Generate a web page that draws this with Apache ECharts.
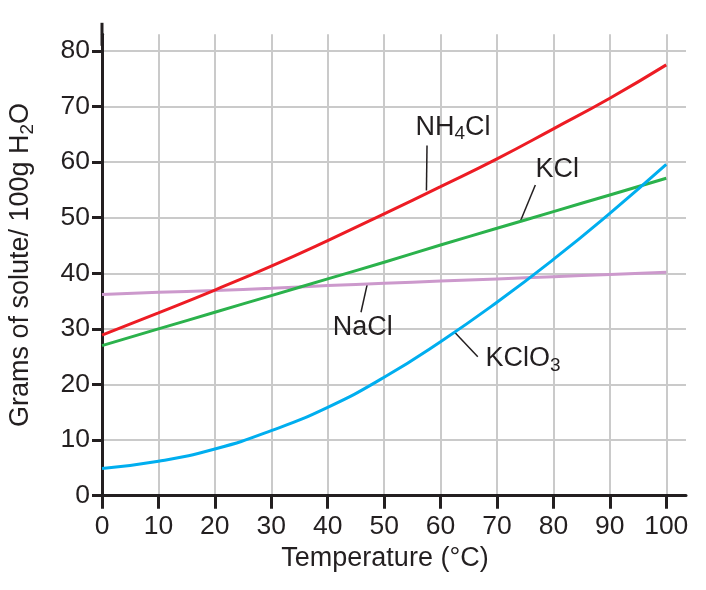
<!DOCTYPE html>
<html>
	<head>
		<meta charset="utf-8">
		<title>Solubility curves</title>
	</head>
	<body style="margin:0;background:#fff;">
		<div id="container" style="width: 706px;height:590px;"></div>
	</body>
	<script src="https://cdn.jsdelivr.net/npm/echarts@6/dist/echarts.min.js"></script>
	<script type="text/javascript">
		'use strict'
		// temperatures (°C) and solubility (g / 100 g water)
		var temps = [0, 10, 20, 30, 40, 50, 60, 70, 80, 90, 100];
		var nh4cl = [28.9, 32.9, 37.0, 41.3, 45.9, 50.7, 55.6, 60.6, 66.0, 71.5, 77.5];
		var kcl = [27.0, 30.0, 33.0, 36.0, 39.0, 42.0, 45.1, 48.1, 51.1, 54.1, 57.1];
		var nacl = [36.2, 36.6, 36.9, 37.3, 37.8, 38.2, 38.6, 39.0, 39.4, 39.8, 40.2];
		var kclo3 = [4.9, 6.2, 8.4, 11.7, 15.9, 21.3, 27.7, 34.8, 42.5, 50.8, 59.6];

		// tick labels
		var xTicks = [0, 10, 20, 30, 40, 50, 60, 70, 80, 90, 100];
		var yTicks = [0, 10, 20, 30, 40, 50, 60, 70, 80];

		// curve names and where they are written (temperature, grams)
		var labelTexts = ['NH{sub|4}Cl', 'KCl', 'NaCl', 'KClO{sub|3}'];
		var labelSpots = [[62.2, 66.2], [80.7, 58.6], [46.2, 30.2], [74.6, 24.6]];
		// leader lines from label to curve
		var leaders = [
			[[57.6, 63.0], [57.5, 54.9]],
			[[76.8, 55.9], [74.2, 49.5]],
			[[47.0, 38.0], [45.9, 33.0]],
			[[66.6, 25.0], [62.5, 29.4]]
		];

		var ink = '#231f20';
		var font = 'Liberation Sans, Arial, Helvetica, sans-serif';
		var subStyle = { fontSize: 19, color: ink, fontFamily: font, padding: [13, 0, 0, 0] };

		function pairs(ys) {
			return temps.map(function (t, i) { return [t, ys[i]]; });
		}

		var myCharts = echarts.init(document.getElementById('container'));
		var option = {
			animation: false,
			textStyle: { fontFamily: font },
			// fixed plot area, no auto shrinking for labels
			grid: { left: 102, right: 20, top: 34.3, bottom: 94.3, containLabel: false, outerBoundsMode: 'none' },
			xAxis: {
				type: 'value',
				min: 0,
				max: 103.5,
				name: 'Temperature (°C)',
				nameLocation: 'middle',
				nameGap: 48,
				nameTextStyle: { color: ink, fontSize: 27, fontFamily: font, padding: [0, 18, 0, 0] },
				axisLine: { onZero: false, lineStyle: { color: ink, width: 3 } },
				axisTick: { length: 13, lineStyle: { color: ink, width: 3 }, customValues: xTicks },
				axisLabel: { color: ink, fontSize: 26.5, fontFamily: font, margin: 17, customValues: xTicks },
				splitLine: { show: true, lineStyle: { color: '#cacaca', width: 2 } }
			},
			yAxis: {
				type: 'value',
				min: 0,
				max: 83,
				name: 'Grams of solute/ 100g H{sub|2}O',
				nameLocation: 'middle',
				nameGap: 65,
				nameTextStyle: { color: ink, fontSize: 27, fontFamily: font, rich: { sub: subStyle } },
				axisLine: {
					onZero: false,
					symbol: ['none', 'rect'],
					symbolSize: [3, 23],
					lineStyle: { color: ink, width: 3 }
				},
				axisTick: { length: 10, lineStyle: { color: ink, width: 3 }, customValues: yTicks },
				axisLabel: { color: ink, fontSize: 26.5, fontFamily: font, margin: 12, customValues: yTicks },
				splitLine: { show: true, lineStyle: { color: '#cacaca', width: 2 } }
			},
			series: [
				{ name: 'NaCl', type: 'line', smooth: true, symbol: 'none', data: pairs(nacl), lineStyle: { color: '#cc99cc', width: 3 } },
				{ name: 'KCl', type: 'line', smooth: true, symbol: 'none', data: pairs(kcl), lineStyle: { color: '#2bb24c', width: 3 } },
				{ name: 'NH4Cl', type: 'line', smooth: true, symbol: 'none', data: pairs(nh4cl), lineStyle: { color: '#ed1c24', width: 3 } },
				{ name: 'KClO3', type: 'line', smooth: true, symbol: 'none', data: pairs(kclo3), lineStyle: { color: '#00aeef', width: 3 } },
				{
					type: 'lines',
					coordinateSystem: 'cartesian2d',
					lineStyle: { color: ink, width: 1.5, opacity: 1 },
					data: leaders.map(function (l) { return { coords: l }; })
				},
				{
					type: 'scatter',
					symbolSize: 0,
					itemStyle: { opacity: 1 },
					data: labelSpots.map(function (p, i) { return { value: p, text: labelTexts[i] }; }),
					label: {
						show: true,
						position: 'inside',
						color: ink,
						opacity: 1,
						fontSize: 27,
						fontFamily: font,
						formatter: function (p) { return p.data.text; },
						rich: { sub: subStyle }
					}
				}
			]
		};
		myCharts.setOption(option);
	</script>
</html>
